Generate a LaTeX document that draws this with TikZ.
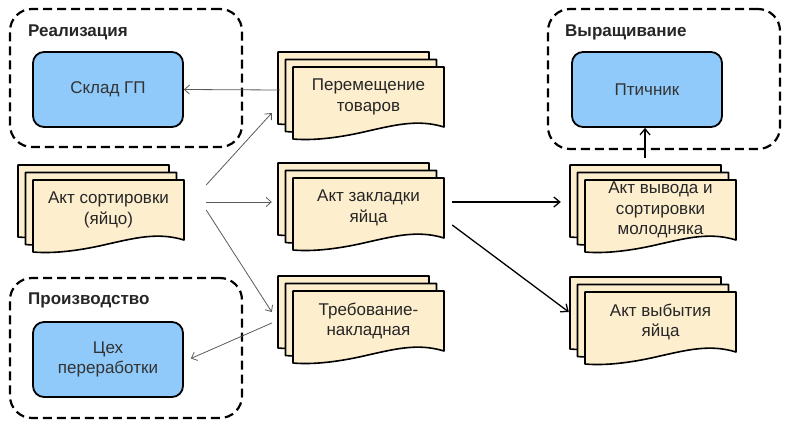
\documentclass[tikz,border=0pt]{standalone}
\usepackage{fontspec}
\setmainfont{Liberation Sans}
\usetikzlibrary{arrows.meta,calc,backgrounds}

\definecolor{docfill}{RGB}{253,238,206}
\definecolor{boxfill}{RGB}{143,202,250}
\definecolor{linegray}{RGB}{90,90,90}

\tikzset{
  groupbox/.style={draw, dash pattern=on 9pt off 5pt, line width=2.2pt, rounded corners=22pt},
  grouptitle/.style={anchor=west, inner sep=0pt, font=\fontsize{17}{20}\selectfont\bfseries, text=black!85},
  bluebox/.style={draw, fill=boxfill, line width=1.8pt, rounded corners=11pt,
    minimum width=150pt, minimum height=75pt, align=center,
    font=\fontsize{17}{20.5}\selectfont, text=black!80},
  docnode/.style={minimum width=151pt, minimum height=60pt, inner sep=0pt, align=center,
    font=\fontsize{17}{20.5}\selectfont, text=black!85},
  pagesheet/.style={draw, fill=docfill, line width=1.6pt, line join=round},
  thinarrow/.style={draw=linegray, line width=0.8pt, -{Straight Barb[length=5pt,width=9pt]}},
  boldarrow/.style={draw=black, line width=1.3pt, -{Straight Barb[length=6pt,width=10pt]}}
}

% stack of three sheets behind a named text node
\newcommand\docstack[3]{%
  \node[docnode] (#1) at (#2) {#3};
  \begin{scope}[on background layer]
    \foreach \d in {15,7.5,0}{
      \begin{scope}[shift={($(#1.center)+(-75.5-\d,-30-\d)$)}]
        \draw[pagesheet] (0,0) -- (151,0) -- (151,60)
          .. controls (125,52) and (102,58) .. (75,64)
          .. controls (50,70) and (22,74) .. (0,72) -- cycle;
      \end{scope}
    }
  \end{scope}}

\begin{document}
\begin{tikzpicture}[x=1pt, y=-1pt]
  \useasboundingbox (0,0) rectangle (800,428);

  % groups
  \node[groupbox, minimum width=232pt, minimum height=138pt] (realiz) at (126,78) {};
  \node[groupbox, minimum width=232pt, minimum height=140pt] (proizv) at (126,348) {};
  \node[groupbox, minimum width=232pt, minimum height=140pt] (vyrasch) at (664,79) {};
  \node[grouptitle] (realizt) at (28,32) {Реализация};
  \node[grouptitle] (proizvt) at (28,300) {Производство};
  \node[grouptitle] (vyrascht) at (565,32) {Выращивание};

  % places
  \node[bluebox] (sklad) at (108,89.5) {Склад ГП};
  \node[bluebox] (tsekh) at (108,359.5) {Цех\\переработки};
  \node[bluebox] (ptichnik) at (647,89.5) {Птичник};

  % documents
  \docstack{sortdoc}{108.5,210}{Акт сортировки\\(яйцо)}
  \docstack{movedoc}{368.5,97}{Перемещение\\товаров}
  \docstack{laydoc}{368.5,208}{Акт закладки\\яйца}
  \docstack{reqdoc}{368.5,321}{Требование-\\накладная}
  \docstack{hatchdoc}{660.5,210}{Акт вывода и\\сортировки\\молодняка}
  \docstack{culldoc}{660.5,322}{Акт выбытия\\яйца}

  % flows
  \draw[thinarrow] ($(movedoc.west)+(-13,-7)$) -- (sklad.east);
  \draw[thinarrow] ($(sortdoc.east)+(22,-25)$) -- ($(movedoc.west)+(-21,16)$);
  \draw[thinarrow] ($(sortdoc.east)+(22,-8)$) -- ($(laydoc.west)+(-21,-6)$);
  \draw[thinarrow] ($(sortdoc.east)+(22,0)$) -- ($(reqdoc.west)+(-21,-9)$);
  \draw[thinarrow] ($(reqdoc.west)+(-21,2)$) -- ($(tsekh.east)+(7,-1)$);
  \draw[boldarrow] ($(laydoc.east)+(8,-6)$) -- ($(hatchdoc.west)+(-24,-8)$);
  \draw[boldarrow] ($(laydoc.east)+(8,17)$) -- ($(culldoc.west)+(-16,-10)$);
  \draw[boldarrow] ($(ptichnik.south)+(-2,30)$) -- ($(ptichnik.south)+(-2,0)$);
\end{tikzpicture}
\end{document}
